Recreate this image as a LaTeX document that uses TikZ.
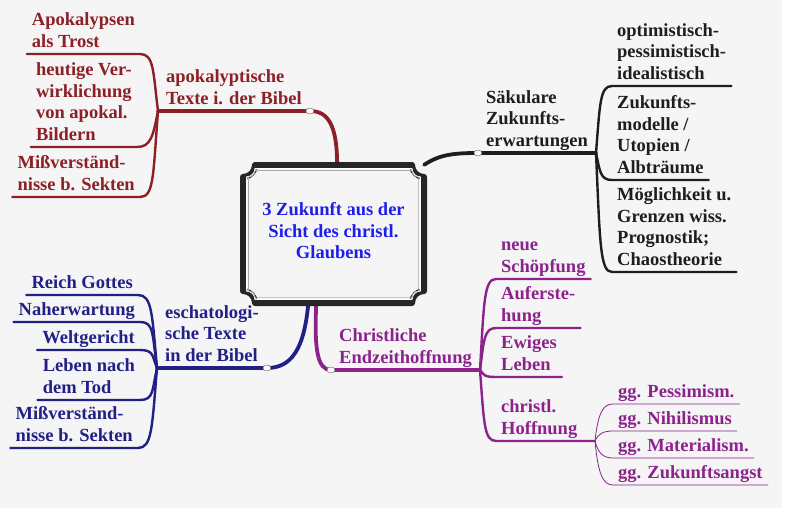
\documentclass[tikz,border=0pt]{standalone}
\usepackage{fontspec}
\setmainfont{Liberation Serif}[BoldFont={Liberation Serif Bold}]
\newfontfamily\mapfont{Liberation Serif}[BoldFont={Liberation Serif Bold}]
\usetikzlibrary{calc}

\definecolor{bgGray}{RGB}{245,245,245}
\definecolor{apoRed}{RGB}{140,32,38}
\definecolor{secBlack}{RGB}{30,30,30}
\definecolor{eschBlue}{RGB}{32,32,135}
\definecolor{hopePurple}{RGB}{140,34,140}
\definecolor{coreBlue}{RGB}{30,30,235}

% notched box outline: x1, y1, x2, y2, notch radius
\newcommand{\notchpath}[5]{({#1},{#2+#5}) .. controls ({#1+0.55*#5},{#2+#5}) and ({#1+#5},{#2+0.55*#5}) .. ({#1+#5},{#2})
	-- ({#3-#5},{#2}) .. controls ({#3-#5},{#2+0.55*#5}) and ({#3-0.55*#5},{#2+#5}) .. ({#3},{#2+#5})
	-- ({#3},{#4-#5}) .. controls ({#3-0.55*#5},{#4-#5}) and ({#3-#5},{#4-0.55*#5}) .. ({#3-#5},{#4})
	-- ({#1+#5},{#4}) .. controls ({#1+#5},{#4-0.55*#5}) and ({#1+0.55*#5},{#4-#5}) .. ({#1},{#4-#5}) -- cycle}

\begin{document}
\begin{tikzpicture}[x=1pt, y=-1pt, line cap=round, line join=round,
	txt/.style={font=\mapfont\fontsize{18.5}{21.5}\selectfont\bfseries, inner xsep=5pt, inner ysep=0pt, execute at end node=\strut},
	lft/.style={txt, align=left},
	rgt/.style={txt, align=right},
	mainbr/.style={line width=3.8pt},
	subbr/.style={line width=2.4pt},
	thinbr/.style={line width=0.8pt},
	knob/.style={fill=white, draw=black!55, line width=0.5pt}]
	
	% ----------------------------
	% 0) Canvas
	% ----------------------------
	\useasboundingbox (0,0) rectangle (787,514);
	\fill[white] (0,0) rectangle (787,514);
	\fill[bgGray] (0,0) rectangle (782,508);
	
	% ----------------------------
	% 1) Centre topic
	% ----------------------------
	\node[txt, text=coreBlue, align=center, minimum width=181pt, minimum height=138pt] (ctr) at (333.5,234) {3 Zukunft aus der\\Sicht des christl.\\Glaubens};
	
	% ----------------------------
	% 2) Junctions
	% ----------------------------
	\coordinate (jR) at (158,111);
	\coordinate (jS) at (596,153);
	\coordinate (jB) at (157,368);
	\coordinate (jP) at (480,370);
	\coordinate (jH) at (595,441);
	
	% ----------------------------
	% 3) Apokalyptische Texte (red)
	% ----------------------------
	\begin{scope}[text=apoRed]
		\node[lft, anchor=south west, inner xsep=8pt] (apoLbl) at (jR) {apokalyptische\\Texte i. der Bibel};
		\node[lft, anchor=south east] (apoTrost) at (140,54) {Apokalypsen\\als Trost};
		\node[lft, anchor=south east] (apoHeut) at (137,147) {heutige Ver-\\wirklichung\\von apokal.\\Bildern};
		\node[lft, anchor=south east] (apoMiss) at (140,197) {Mißverständ-\\nisse b. Sekten};
	\end{scope}
	\draw[mainbr, apoRed] (ctr.87) .. controls +(0,-40) and +(18,0) .. (apoLbl.south east) -- (apoLbl.south west);
	\foreach \n/\c in {apoTrost/-40, apoHeut/25, apoMiss/65}{
		\draw[subbr, apoRed] (jR) .. controls +(-5,\c) and +(14,0) .. (\n.south east) -- (\n.south west);
	}
	
	% ----------------------------
	% 4) Saekulare Zukunftserwartungen (black)
	% ----------------------------
	\begin{scope}[text=secBlack]
		\node[lft, anchor=south east, inner xsep=8pt] (secLbl) at (jS) {Säkulare\\Zukunfts-\\erwartungen};
		\node[lft, anchor=south west] (secOpt) at (612,86) {optimistisch-\\pessimistisch-\\idealistisch};
		\node[lft, anchor=south west] (secZuk) at (612,180) {Zukunfts-\\modelle /\\Utopien /\\Albträume};
		\node[lft, anchor=south west] (secMoeg) at (612,272) {Möglichkeit u.\\Grenzen wiss.\\Prognostik;\\Chaostheorie};
	\end{scope}
	\draw[mainbr, secBlack] (ctr.north east) .. controls +(15,-10) and +(-25,0) .. (secLbl.south west) -- (secLbl.south east);
	\foreach \n/\c in {secOpt/-50, secZuk/18, secMoeg/90}{
		\draw[subbr, secBlack] (jS) .. controls +(4,\c) and +(-12,0) .. (\n.south west) -- (\n.south east);
	}
	
	% ----------------------------
	% 5) Eschatologische Texte (blue)
	% ----------------------------
	\begin{scope}[text=eschBlue]
		\node[lft, anchor=south west, inner xsep=8pt] (eschLbl) at (jB) {eschatologi-\\sche Texte\\in der Bibel};
		\node[rgt, anchor=south east] (eschReich) at (138,295) {Reich Gottes};
		\node[rgt, anchor=south east] (eschNah) at (140,322) {Naherwartung};
		\node[rgt, anchor=south east] (eschWelt) at (140,350) {Weltgericht};
		\node[lft, anchor=south east] (eschLeben) at (140,400) {Leben nach\\dem Tod};
		\node[lft, anchor=south east] (eschMiss) at (138,448) {Mißverständ-\\nisse b. Sekten};
	\end{scope}
	\draw[mainbr, eschBlue] (ctr.250) .. controls +(-4,45) and +(25,0) .. (eschLbl.south east) -- (eschLbl.south west);
	\foreach \n/\c in {eschReich/-55, eschNah/-35, eschWelt/-12, eschLeben/22, eschMiss/60}{
		\draw[subbr, eschBlue] (jB) .. controls +(-5,\c) and +(14,0) .. (\n.south east) -- (\n.south west);
	}
	
	% ----------------------------
	% 6) Christliche Endzeithoffnung (purple)
	% ----------------------------
	\begin{scope}[text=hopePurple]
		\node[lft, anchor=south east, inner xsep=8pt] (hopeLbl) at (jP) {Christliche\\Endzeithoffnung};
		\node[lft, anchor=south west] (hopeNeu) at (496,279) {neue\\Schöpfung};
		\node[lft, anchor=south west] (hopeAuf) at (496,328) {Auferste-\\hung};
		\node[lft, anchor=south west] (hopeEwig) at (496,377) {Ewiges\\Leben};
		\node[lft, anchor=south west] (hopeChr) at (496,441) {christl.\\Hoffnung};
		\node[lft, anchor=south west] (ggPess) at (613,404) {gg. Pessimism.};
		\node[lft, anchor=south west] (ggNihil) at (613,431) {gg. Nihilismus};
		\node[lft, anchor=south west] (ggMat) at (613,458) {gg. Materialism.};
		\node[lft, anchor=south west] (ggAngst) at (613,485) {gg. Zukunftsangst};
	\end{scope}
	\draw[mainbr, hopePurple] (ctr.256) .. controls +(-2,45) and +(-14,0) .. (hopeLbl.south west) -- (hopeLbl.south east);
	\foreach \n/\c in {hopeNeu/-68, hopeAuf/-30, hopeEwig/5}{
		\draw[subbr, hopePurple] (jP) .. controls +(4,\c) and +(-12,0) .. (\n.south west) -- (\n.south east);
	}
	\draw[subbr, hopePurple] (jP) .. controls +(4,53) and +(-12,0) .. (hopeChr.south west) -- (jH);
	\foreach \n/\c in {ggPess/-28, ggNihil/-7, ggMat/12, ggAngst/33}{
		\draw[thinbr, hopePurple] (jH) .. controls +(3,\c) and +(-10,0) .. (\n.south west) -- (\n.south east);
	}
	
	% ----------------------------
	% 7) Notched frame round the centre
	% ----------------------------
	\draw[black!85, line width=6pt, fill=bgGray] \notchpath{243}{165}{424}{303}{12};
	\draw[white, line width=1.2pt] \notchpath{246.8}{168.8}{420.2}{299.2}{8.2};
	\draw[black!35, line width=0.7pt] \notchpath{248.4}{170.4}{418.6}{297.6}{6.6};
	\node[txt, text=coreBlue, align=center] at (ctr.center) {3 Zukunft aus der\\Sicht des christl.\\Glaubens};
	
	% ----------------------------
	% 8) Knobs where branches leave the label
	% ----------------------------
	\foreach \p in {apoLbl.south east, secLbl.south west, eschLbl.south east, hopeLbl.south west}{
		\draw[knob] (\p) ellipse (4 and 3);
	}
	
\end{tikzpicture}
\end{document}
